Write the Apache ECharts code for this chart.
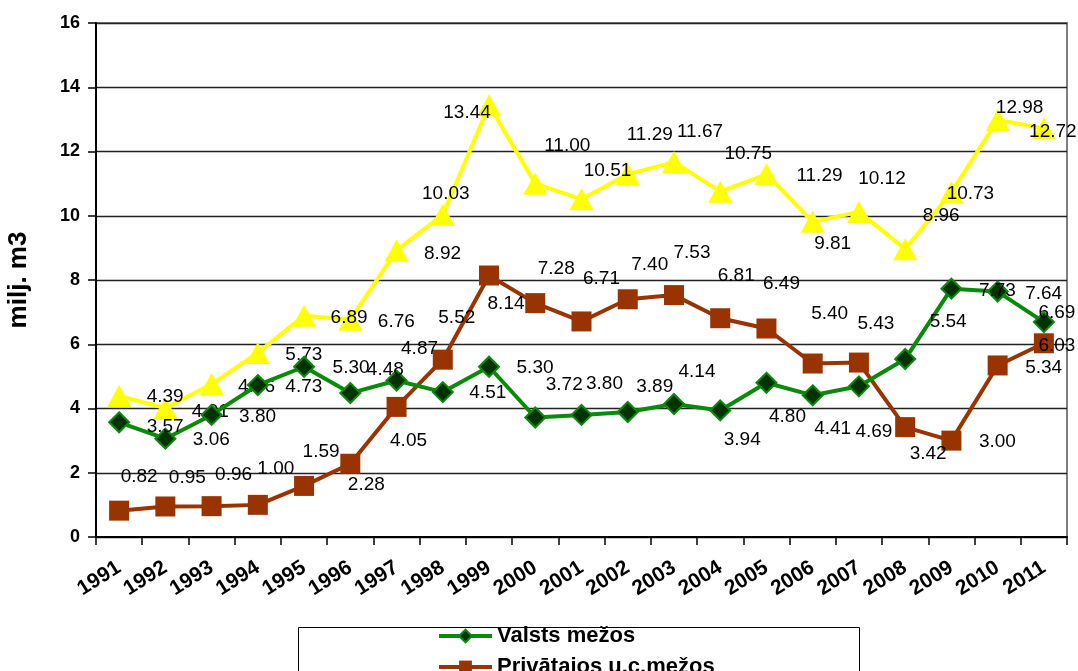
<!DOCTYPE html>
<html>
<head>
<meta charset="utf-8">
<script src="https://cdn.jsdelivr.net/npm/echarts@6/dist/echarts.min.js"></script>
<style>
html,body{margin:0;padding:0;background:#fff;}
#chart{width:1078px;height:671px;}
</style>
</head>
<body>
<div id="chart"></div>
<script>
// ---- data ----
var years = ['1991','1992','1993','1994','1995','1996','1997','1998','1999','2000','2001','2002','2003','2004','2005','2006','2007','2008','2009','2010','2011'];
var valstsMezos = [3.57,3.06,3.80,4.73,5.30,4.48,4.87,4.51,5.30,3.72,3.80,3.89,4.14,3.94,4.80,4.41,4.69,5.54,7.73,7.64,6.69];
var privatajos = [0.82,0.95,0.96,1.00,1.59,2.28,4.05,5.52,8.14,7.28,6.71,7.40,7.53,6.81,6.49,5.40,5.43,3.42,3.00,5.34,6.03];
var kopa = [4.39,4.01,4.76,5.73,6.89,6.76,8.92,10.03,13.44,11.00,10.51,11.29,11.67,10.75,11.29,9.81,10.12,8.96,10.73,12.98,12.72];
var seriesNames = ['Valsts mežos','Privātajos u.c.mežos','Kopā'];
var yTicks = {min:0, max:16, interval:2};

// ---- label placement (pixel offsets from each point, as in the original) ----
var offValsts = [[46,4],[46,1],[46,2],[46,2],[47,1],[35,-23],[23,-32],[45,1],[46,1],[29,-33],[23,-31],[27,-25],[23,-32],[22,29],[21,34],[20,33],[15,45],[43,-37],[46,2],[46,2],[13,-9]];
var offPriv = [[20,-34],[22,-29],[22,-31],[18,-36],[17,-34],[16,21],[12,34],[14,-42],[17,28],[21,-34],[20,-43],[22,-35],[18,-42],[16,-42],[15,-45],[17,-50],[17,-39],[23,27],[46,1],[46,2],[13,2]];
var offKopa = [[46,1],[45,4],[45,3],[46,2],[45,2],[46,2],[46,3],[3,-21],[-22,8],[32,-38],[26,-29],[22,-40],[26,-30],[28,-38],[53,1],[20,22],[23,-33],[36,-33],[19,1],[22,-12],[9,3]];

var FONT = 'Liberation Sans, Arial, sans-serif';

function build(vals, offs){
  return vals.map(function(v,i){
    return {value:v, label:{offset:offs[i]}};
  });
}
function labelCfg(){
  return {
    show:true, position:'inside', align:'center', verticalAlign:'middle',
    color:'#000', fontFamily:FONT, fontSize:19,
    formatter:function(p){return p.value.toFixed(2);}
  };
}

var chart = echarts.init(document.getElementById('chart'), null, {renderer:'canvas'});
chart.setOption({
  animation:false,
  backgroundColor:'#fff',
  grid:{left:96, right:11, top:23, bottom:134, containLabel:false, outerBoundsMode:'none',
        show:true, borderColor:'#808080', borderWidth:2, backgroundColor:'transparent'},
  graphic:[{type:'rect', left:296, top:625, shape:{width:561, height:80}, style:{fill:'none', stroke:'#000', lineWidth:1}, z:1}],
  legend:{
    orient:'vertical', left:437, top:625, height:200, padding:0,
    itemWidth:53, itemHeight:16, itemGap:9,
    data:seriesNames,
    lineStyle:{width:4},
    textStyle:{fontFamily:FONT, fontSize:22, fontWeight:'bold', color:'#000'}
  },
  xAxis:{
    type:'category', data:years, boundaryGap:true,
    axisLine:{lineStyle:{color:'#000', width:2}},
    axisTick:{show:true, length:8, lineStyle:{color:'#000', width:1.5}},
    axisLabel:{rotate:32, margin:29, fontFamily:FONT, fontSize:21, fontWeight:'bold', color:'#000', interval:0},
    splitLine:{show:false}
  },
  yAxis:{
    type:'value', min:yTicks.min, max:yTicks.max, interval:yTicks.interval,
    name:'milj. m3', nameLocation:'middle', nameRotate:90, nameGap:64,
    nameTextStyle:{fontFamily:FONT, fontSize:26, fontWeight:'bold', color:'#000'},
    axisLine:{show:true, lineStyle:{color:'#000', width:2}},
    axisTick:{show:true, length:8, lineStyle:{color:'#000', width:1.5}},
    axisLabel:{margin:16, fontFamily:FONT, fontSize:18, fontWeight:'bold', color:'#000'},
    splitLine:{lineStyle:{color:'#222', width:1.3}}
  },
  series:[
    {
      name:seriesNames[0], type:'line', data:build(valstsMezos, offValsts),
      symbol:'diamond', symbolSize:[20,20],
      lineStyle:{color:'#0a8a0a', width:4},
      itemStyle:{color:'#003300', borderColor:'#0a8a0a', borderWidth:2},
      label:labelCfg(), z:4
    },
    {
      name:seriesNames[1], type:'line', data:build(privatajos, offPriv),
      symbol:'rect', symbolSize:[20,20],
      lineStyle:{color:'#993300', width:4},
      itemStyle:{color:'#993300', borderColor:'#993300', borderWidth:0},
      label:labelCfg(), z:3
    },
    {
      name:seriesNames[2], type:'line', data:build(kopa, offKopa),
      symbol:'triangle', symbolSize:[24,22],
      lineStyle:{color:'#ffff00', width:4},
      itemStyle:{color:'#ffff00', borderColor:'#ffff00', borderWidth:0},
      label:labelCfg(), z:2
    }
  ]
});
</script>
</body>
</html>
